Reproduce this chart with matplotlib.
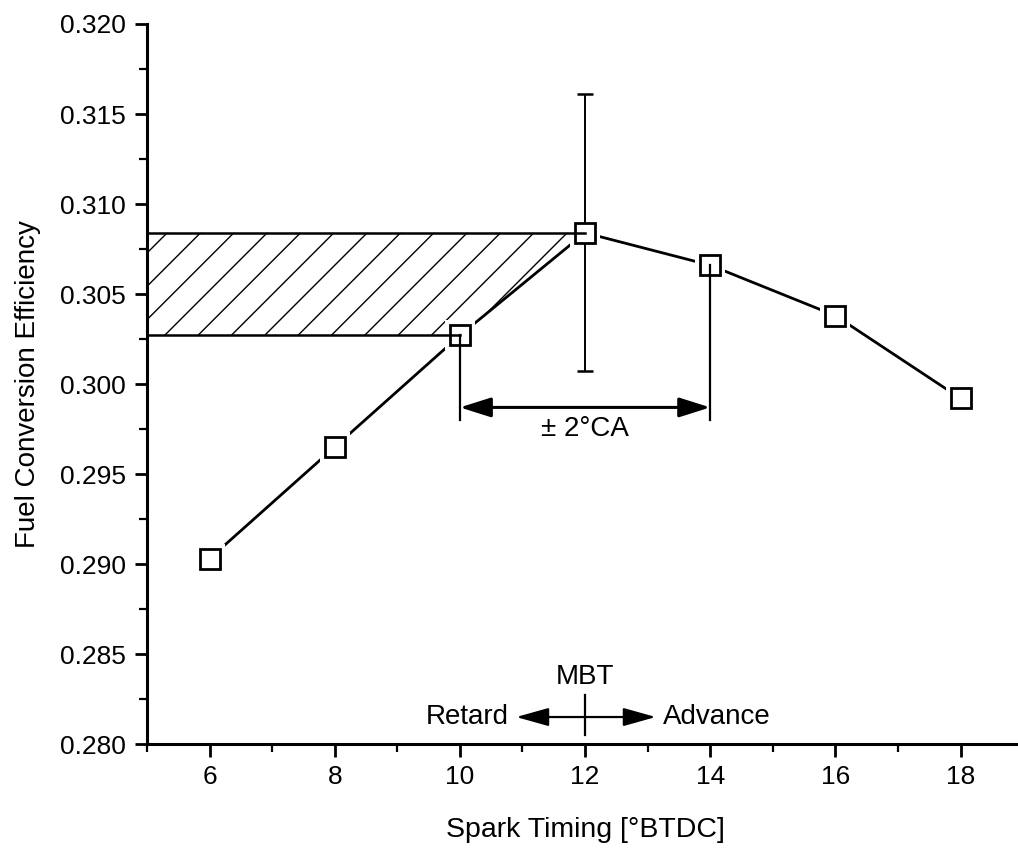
import matplotlib
matplotlib.use("Agg")
import matplotlib.pyplot as plt
from matplotlib.ticker import MultipleLocator, FormatStrFormatter

plt.rcParams['font.family'] = ['Liberation Sans', 'DejaVu Sans']
plt.rcParams['hatch.linewidth'] = 1.0

# ---- data ----
spark_timing = [6, 8, 10, 12, 14, 16, 18]
efficiency = [0.2903, 0.2965, 0.3027, 0.3084, 0.3066, 0.3038, 0.2992]
mbt_index = 3
mbt_error = 0.0077
window_low_index = 2
window_high_index = 4

x_ticks = [6, 8, 10, 12, 14, 16, 18]
y_ticks = [0.280, 0.285, 0.290, 0.295, 0.300, 0.305, 0.310, 0.315, 0.320]
x_label = "Spark Timing [°BTDC]"
y_label = "Fuel Conversion Efficiency"
x_limits = (5, 19)
y_limits = (0.280, 0.320)

window_arrow_y = 0.2987
window_line_bottom = 0.2980
window_text_y = 0.2975
window_text = "± 2°CA"

mbt_label_y = 0.2837
mbt_arrow_y = 0.2815
mbt_tick_range = (0.2805, 0.2827)
retard_arrow_end = 10.9
advance_arrow_end = 13.13
retard_text_x = 10.78
advance_text_x = 13.25

fig = plt.figure(figsize=(10.18, 8.51), dpi=100)
ax = fig.add_axes([0.1444, 0.1257, 0.8606, 0.8461])
ax.set_xlim(*x_limits)
ax.set_ylim(*y_limits)

xm = spark_timing[mbt_index]
ym = efficiency[mbt_index]
xl = spark_timing[window_low_index]
yl = efficiency[window_low_index]
xh = spark_timing[window_high_index]
yh = efficiency[window_high_index]
x0 = x_limits[0]

# hatched region
ax.fill_between([x0, xl, xm], [yl, yl, ym], [ym, ym, ym],
                facecolor='none', edgecolor='black', hatch='/', linewidth=0, zorder=1)

# main line
ax.plot(spark_timing, efficiency, color='black', lw=2.0, zorder=2)
# white masks to create gaps around markers
ax.plot(spark_timing, efficiency, ls='none', marker='s', ms=22,
        mfc='white', mec='white', mew=0, zorder=3)
# error bar
ax.errorbar([xm], [ym], yerr=[mbt_error], fmt='none', ecolor='black',
            elinewidth=1.4, capsize=6, capthick=1.8, zorder=3.5)
# markers
ax.plot(spark_timing, efficiency, ls='none', marker='s', ms=15,
        mfc='white', mec='black', mew=2.0, zorder=4)

# hatch boundary lines and window lines
ax.plot([x0, xm], [ym, ym], color='black', lw=1.8, zorder=5)
ax.plot([x0, xl], [yl, yl], color='black', lw=1.8, zorder=5)
ax.plot([xl, xl], [yl, window_line_bottom], color='black', lw=1.6, zorder=5)
ax.plot([xh, xh], [yh, window_line_bottom], color='black', lw=1.6, zorder=5)

# ±2 CA arrow
ax.annotate('', xy=(xl, window_arrow_y), xytext=(xh, window_arrow_y),
            arrowprops=dict(arrowstyle='<|-|>,head_length=0.95,head_width=0.3',
                            mutation_scale=20, color='black', lw=2.2,
                            shrinkA=0, shrinkB=0), zorder=5)
ax.text((xl + xh) / 2, window_text_y, window_text, ha='center', va='center',
        fontsize=20)

# MBT indicator
ax.plot([xm, xm], list(mbt_tick_range), color='black', lw=1.6)
ax.annotate('', xy=(retard_arrow_end, mbt_arrow_y), xytext=(xm, mbt_arrow_y),
            arrowprops=dict(arrowstyle='-|>,head_length=1.0,head_width=0.28',
                            mutation_scale=20, color='black', lw=1.6,
                            shrinkA=0, shrinkB=0))
ax.annotate('', xy=(advance_arrow_end, mbt_arrow_y), xytext=(xm, mbt_arrow_y),
            arrowprops=dict(arrowstyle='-|>,head_length=1.0,head_width=0.28',
                            mutation_scale=20, color='black', lw=1.6,
                            shrinkA=0, shrinkB=0))
ax.text(xm, mbt_label_y, "MBT", ha='center', va='center', fontsize=20)
ax.text(retard_text_x, mbt_arrow_y, "Retard", ha='right', va='center', fontsize=20)
ax.text(advance_text_x, mbt_arrow_y, "Advance", ha='left', va='center', fontsize=20)

# axes styling
for s in ['top', 'right']:
    ax.spines[s].set_visible(False)
for s in ['left', 'bottom']:
    ax.spines[s].set_linewidth(2.2)

ax.set_xticks(x_ticks)
ax.set_yticks(y_ticks)
ax.xaxis.set_minor_locator(MultipleLocator(1))
ax.yaxis.set_minor_locator(MultipleLocator(0.0025))
ax.yaxis.set_major_formatter(FormatStrFormatter('%.3f'))
ax.tick_params(which='major', direction='out', length=9, width=2.0,
               labelsize=19, pad=6)
ax.tick_params(which='minor', direction='out', length=6, width=1.6)

ax.set_xlabel(x_label, fontsize=20.5, labelpad=20)
ax.set_ylabel(y_label, fontsize=20, labelpad=14)

fig.savefig('out.png', dpi=100)
